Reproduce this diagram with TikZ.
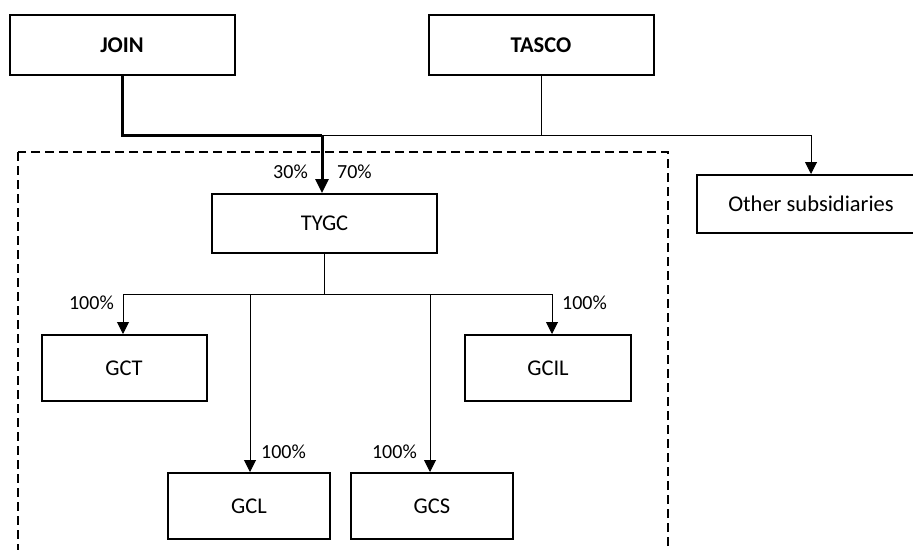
\documentclass[tikz,border=0pt]{standalone}
\usepackage{fontspec}
\setmainfont{Carlito}
\usetikzlibrary{arrows.meta}

\tikzset{
  box/.style={draw, line width=2pt, inner sep=0pt, font=\fontsize{22.5}{27}\selectfont},
  pct/.style={inner sep=0pt, font=\fontsize{20}{24}\selectfont},
  conn/.style={line width=1pt, -{Triangle[length=12pt,width=12pt]}},
  heavy/.style={line width=3pt}
}

\begin{document}
\begin{tikzpicture}[x=1pt,y=-1pt]
   \useasboundingbox (0,0) rectangle (913,549);
   \clip (0,0) rectangle (913,549);
   \draw[line width=2pt, dash pattern=on 9pt off 5pt] (18,152) rectangle (668,570);
   \node[box, minimum width=225pt, minimum height=60pt, font=\fontsize{22.5}{27}\selectfont\bfseries] (join) at (122,45) {JOIN};
   \node[box, minimum width=225pt, minimum height=60pt, font=\fontsize{22.5}{27}\selectfont\bfseries] (tasco) at (541,45) {TASCO};
   \node[box, minimum width=228pt, minimum height=58pt] (other) at (811,204) {Other subsidiaries};
   \node[box, minimum width=225pt, minimum height=59pt] (tygc) at (324.5,223.5) {TYGC};
   \node[box, minimum width=165pt, minimum height=66pt] (gct) at (124,368) {GCT};
   \node[box, minimum width=166pt, minimum height=66pt] (gcil) at (548,368) {GCIL};
   \node[box, minimum width=162pt, minimum height=66pt] (gcl) at (249,506) {GCL};
   \node[box, minimum width=162pt, minimum height=66pt] (gcs) at (432,506) {GCS};
   \coordinate (jn) at (322,135);
   \coordinate (tn) at (324,294);
   \draw[line width=1pt] (tasco.south) |- (jn);
   \draw[conn] (jn) -| (other.north);
   \draw[heavy] (join.south) |- (jn);
   \draw[heavy, -{Triangle[length=14pt,width=13pt]}] (jn) -- (jn |- tygc.north);
   \draw[line width=1pt] (tygc.south -| tn) -- (tn);
   \draw[conn] (tn) -| ([xshift=-1pt]gct.north);
   \draw[conn] (tn) -| ([xshift=4pt]gcil.north);
   \draw[conn] (tn -| gcl.north) ++(1,0) -- ([xshift=1pt]gcl.north);
   \draw[conn] (tn -| gcs.north) ++(-2,0) -- ([xshift=-2pt]gcs.north);
   \node[pct, anchor=east] (p30) at (308,172) {30\%};
   \node[pct, anchor=west] (p70) at (337,172) {70\%};
   \node[pct, anchor=east] (pgct) at (114,303) {100\%};
   \node[pct, anchor=west] (pgcil) at (562,303) {100\%};
   \node[pct, anchor=west] (pgcl) at (261,452) {100\%};
   \node[pct, anchor=east] (pgcs) at (417,452) {100\%};
\end{tikzpicture}
\end{document}
